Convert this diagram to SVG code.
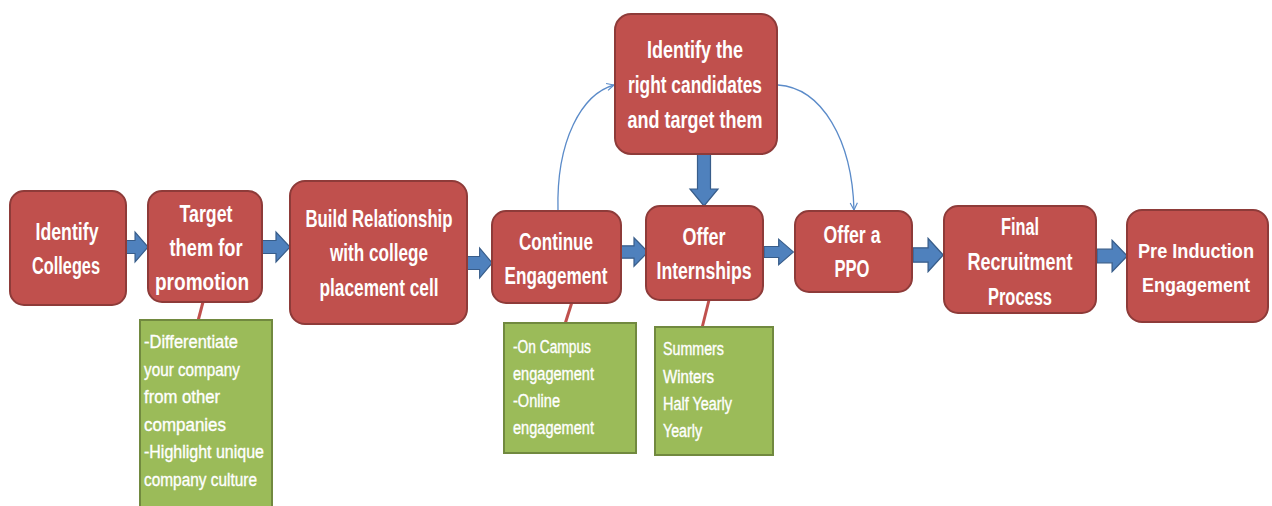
<svg xmlns="http://www.w3.org/2000/svg" width="1272" height="506" viewBox="0 0 1272 506">
  <defs>
    <style>
      .step { fill: #C0504D; stroke: #8E3B39; stroke-width: 2; }
      .note { fill: #9BBB59; stroke: #71893F; stroke-width: 2; }
      .step-text { font-family: "Liberation Sans", Arial, sans-serif; font-weight: bold; font-size: 23px; fill: #FFFFFF; text-anchor: middle; }
      .note-text { font-family: "Liberation Sans", Arial, sans-serif; font-size: 17.5px; fill: #FFFFFF; stroke: #FFFFFF; stroke-width: 0.35; }
      .block { fill: #4F81BD; stroke: #385D8A; stroke-width: 1.2; }
      .link { fill: none; stroke: #C0504D; stroke-width: 3; }
      .curve { fill: none; stroke: #5B8BC9; stroke-width: 1.3; marker-end: url(#open-head); }
    </style>
    <marker id="open-head" viewBox="0 0 10 10" refX="9" refY="5" markerWidth="9" markerHeight="9" orient="auto" markerUnits="userSpaceOnUse">
      <path d="M1,1 L9,5 L1,9" fill="none" stroke="#5B8BC9" stroke-width="1.3"/>
    </marker>
    <!-- horizontal block arrow, origin at tail centre, 28 long -->
    <path id="h-arrow" d="M0,-6.5 L14,-6.5 L14,-15 L28,0 L14,15 L14,6.5 L0,6.5 Z"/>
  </defs>

  <rect width="1272" height="506" fill="#FFFFFF"/>

  <!-- connectors -->
  <g id="connectors">
    <!-- note links -->
    <line class="link" x1="203" y1="302" x2="198" y2="321"/>
    <line class="link" x1="572" y1="302" x2="565" y2="324"/>
    <line class="link" x1="709" y1="300" x2="702" y2="328"/>

    <!-- block arrows between steps -->
    <use href="#h-arrow" class="block" transform="translate(122,247) scale(0.93,1)"/>
    <use href="#h-arrow" class="block" transform="translate(262,247)"/>
    <use href="#h-arrow" class="block" transform="translate(467,263) scale(0.9,1)"/>
    <use href="#h-arrow" class="block" transform="translate(620,252) scale(1,0.95)"/>
    <use href="#h-arrow" class="block" transform="translate(764,252) scale(1.05,0.85)"/>
    <use href="#h-arrow" class="block" transform="translate(913,255) scale(1.08,1.1)"/>
    <use href="#h-arrow" class="block" transform="translate(1097,256) scale(1.08,1.05)"/>

    <!-- downward block arrow -->
    <path class="block" d="M697.5,153 L710.5,153 L710.5,189 L718,189 L704,206 L690,189 L697.5,189 Z"/>

    <!-- curved side arrows -->
    <path class="curve" d="M558,211 C556,140 582,94 614,85"/>
    <path class="curve" d="M778,85 C822,88 852,140 854,210"/>
  </g>

  <!-- steps -->
  <g id="identify-colleges">
    <rect class="step" x="10" y="191" width="116" height="114" rx="14"/>
    <text class="step-text"><tspan x="67" y="240" textLength="63" lengthAdjust="spacingAndGlyphs">Identify</tspan><tspan x="66" y="274" textLength="68" lengthAdjust="spacingAndGlyphs">Colleges</tspan></text>
  </g>
  <g id="target-promotion">
    <rect class="step" x="148" y="191" width="114" height="111" rx="14"/>
    <text class="step-text"><tspan x="206" y="222" textLength="53" lengthAdjust="spacingAndGlyphs">Target</tspan><tspan x="206" y="256" textLength="73" lengthAdjust="spacingAndGlyphs">them for</tspan><tspan x="202" y="290" textLength="94" lengthAdjust="spacingAndGlyphs">promotion</tspan></text>
  </g>
  <g id="build-relationship">
    <rect class="step" x="290" y="181" width="177" height="143" rx="15"/>
    <text class="step-text"><tspan x="379" y="227" textLength="147" lengthAdjust="spacingAndGlyphs">Build Relationship</tspan><tspan x="379" y="261" textLength="98" lengthAdjust="spacingAndGlyphs">with college</tspan><tspan x="379" y="296" textLength="119" lengthAdjust="spacingAndGlyphs">placement cell</tspan></text>
  </g>
  <g id="continue-engagement">
    <rect class="step" x="492" y="211" width="129" height="92" rx="14"/>
    <text class="step-text"><tspan x="556" y="250" textLength="74" lengthAdjust="spacingAndGlyphs">Continue</tspan><tspan x="556" y="284" textLength="103" lengthAdjust="spacingAndGlyphs">Engagement</tspan></text>
  </g>
  <g id="identify-candidates">
    <rect class="step" x="615" y="14" width="162" height="140" rx="16"/>
    <text class="step-text"><tspan x="695" y="58" textLength="96" lengthAdjust="spacingAndGlyphs">Identify the</tspan><tspan x="695" y="93" textLength="134" lengthAdjust="spacingAndGlyphs">right candidates</tspan><tspan x="695" y="128" textLength="135" lengthAdjust="spacingAndGlyphs">and target them</tspan></text>
  </g>
  <g id="offer-internships">
    <rect class="step" x="646" y="206" width="117" height="94" rx="14"/>
    <text class="step-text"><tspan x="704" y="245" textLength="43" lengthAdjust="spacingAndGlyphs">Offer</tspan><tspan x="704" y="279" textLength="95" lengthAdjust="spacingAndGlyphs">Internships</tspan></text>
  </g>
  <g id="offer-ppo">
    <rect class="step" x="795" y="211" width="117" height="81" rx="14"/>
    <text class="step-text"><tspan x="852" y="243" textLength="57" lengthAdjust="spacingAndGlyphs">Offer a</tspan><tspan x="852" y="277" textLength="35" lengthAdjust="spacingAndGlyphs">PPO</tspan></text>
  </g>
  <g id="final-recruitment">
    <rect class="step" x="944" y="206" width="152" height="107" rx="14"/>
    <text class="step-text"><tspan x="1020" y="235" textLength="38" lengthAdjust="spacingAndGlyphs">Final</tspan><tspan x="1020" y="270" textLength="105" lengthAdjust="spacingAndGlyphs">Recruitment</tspan><tspan x="1020" y="305" textLength="64" lengthAdjust="spacingAndGlyphs">Process</tspan></text>
  </g>
  <g id="pre-induction">
    <rect class="step" x="1127" y="210" width="141" height="112" rx="15"/>
    <text class="step-text" style="font-size:21px"><tspan x="1196" y="258" textLength="116" lengthAdjust="spacingAndGlyphs">Pre Induction</tspan><tspan x="1196" y="292" textLength="108" lengthAdjust="spacingAndGlyphs">Engagement</tspan></text>
  </g>

  <!-- notes -->
  <g id="note-promotion">
    <rect class="note" x="140" y="320" width="132" height="192"/>
    <text class="note-text"><tspan x="144" y="348" textLength="94" lengthAdjust="spacingAndGlyphs">-Differentiate</tspan><tspan x="144" y="375.5" textLength="96" lengthAdjust="spacingAndGlyphs">your company</tspan><tspan x="144" y="403" textLength="76" lengthAdjust="spacingAndGlyphs">from other</tspan><tspan x="144" y="430.5" textLength="82" lengthAdjust="spacingAndGlyphs">companies</tspan><tspan x="144" y="458" textLength="120" lengthAdjust="spacingAndGlyphs">-Highlight unique</tspan><tspan x="144" y="485.5" textLength="113" lengthAdjust="spacingAndGlyphs">company culture</tspan></text>
  </g>
  <g id="note-engagement">
    <rect class="note" x="504" y="323" width="132" height="130"/>
    <text class="note-text"><tspan x="513" y="353" textLength="78" lengthAdjust="spacingAndGlyphs">-On Campus</tspan><tspan x="513" y="380" textLength="81" lengthAdjust="spacingAndGlyphs">engagement</tspan><tspan x="513" y="407" textLength="47" lengthAdjust="spacingAndGlyphs">-Online</tspan><tspan x="513" y="434" textLength="81" lengthAdjust="spacingAndGlyphs">engagement</tspan></text>
  </g>
  <g id="note-internships">
    <rect class="note" x="655" y="327" width="118" height="128"/>
    <text class="note-text"><tspan x="663" y="355" textLength="61" lengthAdjust="spacingAndGlyphs">Summers</tspan><tspan x="663" y="383" textLength="51" lengthAdjust="spacingAndGlyphs">Winters</tspan><tspan x="663" y="410" textLength="69" lengthAdjust="spacingAndGlyphs">Half Yearly</tspan><tspan x="663" y="437" textLength="39" lengthAdjust="spacingAndGlyphs">Yearly</tspan></text>
  </g>
</svg>
